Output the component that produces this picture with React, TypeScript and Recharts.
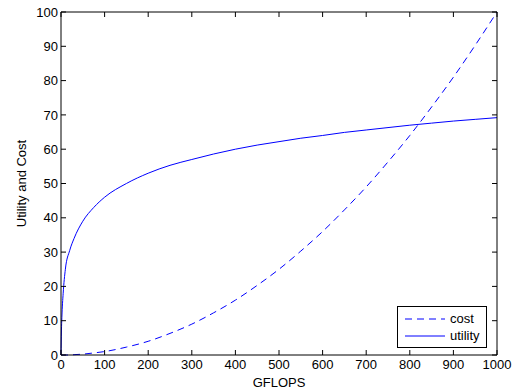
import { LineChart, Line, XAxis, YAxis, Legend } from 'recharts';

// sample points along the x axis (GFLOPS)
const gflops = [0, 1, 2, 5, 10, 20, 30, 50, 75, 100, 150, 200, 250, 300, 350, 400, 450, 500, 550, 600, 650, 700, 750, 800, 850, 900, 950, 1000];
const costValues = [0, 0, 0, 0, 0, 0, 0.1, 0.25, 0.6, 1, 2.3, 4, 6.3, 9, 12.3, 16, 20.3, 25, 30.3, 36, 42.3, 49, 56.3, 64, 72.3, 81, 90.3, 100];
const utilityValues = [0, 7, 11, 18, 25, 30.5, 34, 39, 43, 46, 50, 53, 55.3, 57, 58.6, 60, 61.2, 62.2, 63.2, 64, 64.9, 65.6, 66.3, 67, 67.6, 68.2, 68.7, 69.2];

const xTicks = [0, 100, 200, 300, 400, 500, 600, 700, 800, 900, 1000];
const yTicks = [0, 10, 20, 30, 40, 50, 60, 70, 80, 90, 100];

const data = gflops.map((g, i) => ({ g, cost: costValues[i], utility: utilityValues[i] }));

const FONT = 'Arial, "Liberation Sans", Helvetica, sans-serif';
const tickStyle = { fontSize: 13, fill: '#000', fontFamily: FONT };
const labelStyle = { fontSize: 13, fill: '#000', fontFamily: FONT };
const BLUE = '#0000ff';

const LegendBox = () => (
  <div
    style={{
      width: 90,
      height: 42,
      border: '1px solid #000',
      background: '#fff',
      fontFamily: FONT,
      fontSize: 13,
      color: '#000',
      boxSizing: 'border-box',
      padding: '3px 0 0 7px',
    }}
  >
    <div style={{ display: 'flex', alignItems: 'center', height: 17 }}>
      <svg width={40} height={4}>
        <line x1={0} y1={2} x2={40} y2={2} stroke={BLUE} strokeDasharray="7 5" />
      </svg>
      <span style={{ marginLeft: 5 }}>cost</span>
    </div>
    <div style={{ display: 'flex', alignItems: 'center', height: 17 }}>
      <svg width={40} height={4}>
        <line x1={0} y1={2} x2={40} y2={2} stroke={BLUE} />
      </svg>
      <span style={{ marginLeft: 5 }}>utility</span>
    </div>
  </div>
);

export default function App() {
  return (
    <div style={{ position: 'absolute', left: 0, top: 0, width: 514, height: 392, background: '#fff' }}>
      <LineChart width={514} height={392} data={data} margin={{ top: 11, right: 16, left: 0, bottom: 0 }}>
        <XAxis
          dataKey="g"
          type="number"
          domain={[0, 1000]}
          ticks={xTicks}
          interval={0}
          height={37}
          tickSize={-5}
          tickMargin={10}
          tick={tickStyle}
          stroke="#000"
          label={{ value: 'GFLOPS', position: 'insideBottom', offset: 5, style: labelStyle }}
        />
        <XAxis
          xAxisId="top"
          orientation="top"
          dataKey="g"
          type="number"
          domain={[0, 1000]}
          allowDataOverflow
          ticks={xTicks}
          interval={0}
          height={1}
          tickSize={-5}
          tickFormatter={() => ''}
          stroke="#000"
        />
        <YAxis
          type="number"
          domain={[0, 100]}
          ticks={yTicks}
          interval={0}
          width={61}
          tickSize={-5}
          tickMargin={8}
          tick={tickStyle}
          stroke="#000"
          label={{ value: 'Utility and Cost', angle: -90, position: 'insideLeft', offset: 21, style: { ...labelStyle, textAnchor: 'middle' } }}
        />
        <YAxis
          yAxisId="right"
          orientation="right"
          type="number"
          domain={[0, 100]}
          allowDataOverflow
          ticks={yTicks}
          interval={0}
          width={1}
          tickSize={-5}
          tickFormatter={() => ''}
          stroke="#000"
        />
        {/* invisible series so the top and right box axes get scales */}
        <Line
          xAxisId="top"
          yAxisId="right"
          dataKey="cost"
          stroke="none"
          dot={false}
          activeDot={false}
          legendType="none"
          isAnimationActive={false}
        />
        <Line
          type="monotone"
          dataKey="cost"
          stroke={BLUE}
          strokeWidth={1}
          strokeDasharray="7 5"
          dot={false}
          isAnimationActive={false}
        />
        <Line
          type="monotone"
          dataKey="utility"
          stroke={BLUE}
          strokeWidth={1}
          dot={false}
          isAnimationActive={false}
        />
        <Legend
          layout="vertical"
          align="center"
          verticalAlign="middle"
          content={() => <LegendBox />}
          wrapperStyle={{ left: 397, top: 306, width: 90, height: 42 }}
        />
      </LineChart>
    </div>
  );
}
